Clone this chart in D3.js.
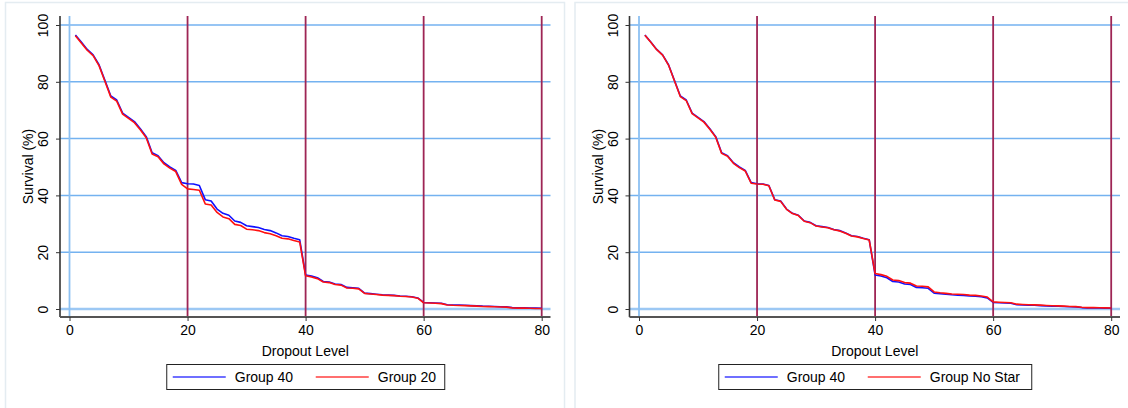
<!DOCTYPE html>
<html>
<head>
<meta charset="utf-8">
<script src="https://cdn.jsdelivr.net/npm/d3@7"></script>
<style>
  html, body { margin: 0; padding: 0; background: #fff; }
  svg { display: block; font-family: "Liberation Sans", Arial, sans-serif; }
</style>
</head>
<body>
<svg id="chart" width="1128" height="408"></svg>
<script>
// Dropout levels (x) and survival percentages for each group
const dropoutLevels = [
  1, 2, 3, 4, 5, 6, 7, 8, 9, 10, 11, 12, 13, 14, 15, 16, 17, 18, 19, 20,
  21, 22, 23, 24, 25, 26, 27, 28, 29, 30, 31, 32, 33, 34, 35, 36, 37, 38, 39, 40,
  41, 42, 43, 44, 45, 46, 47, 48, 49, 50, 51, 52, 53, 54, 55, 56, 57, 58, 59, 60,
  61, 62, 63, 64, 65, 66, 67, 68, 69, 70, 71, 72, 73, 74, 75, 76, 77, 78, 79, 80
];

const group40 = [
  96.5, 94.0, 91.4, 89.5, 86.0, 80.5, 75.0, 73.6, 69.0, 67.5,
  66.0, 63.5, 60.7, 55.0, 54.0, 51.5, 50.0, 48.8, 44.5, 44.1,
  44.0, 43.5, 38.5, 38.0, 35.2, 33.7, 33.0, 31.0, 30.5, 29.3,
  29.0, 28.7, 28.0, 27.6, 26.8, 25.8, 25.5, 24.9, 24.4, 12.0,
  11.6, 11.0, 9.7, 9.5, 8.8, 8.6, 7.6, 7.5, 7.3, 5.6,
  5.4, 5.2, 5.0, 4.9, 4.8, 4.6, 4.5, 4.3, 3.9, 2.3,
  2.2, 2.1, 2.0, 1.5, 1.4, 1.35, 1.3, 1.2, 1.1, 1.0,
  0.95, 0.9, 0.8, 0.75, 0.5, 0.4, 0.4, 0.35, 0.3, 0.25
];

const group20 = [
  96.2, 93.7, 91.1, 89.2, 85.7, 80.2, 74.6, 73.2, 68.6, 67.1,
  65.6, 63.1, 60.3, 54.6, 53.6, 51.1, 49.6, 48.4, 43.9, 42.3,
  42.1, 41.8, 37.0, 36.6, 34.0, 32.4, 31.8, 29.8, 29.4, 28.1,
  27.9, 27.6, 26.9, 26.5, 25.8, 24.9, 24.7, 24.1, 23.6, 11.7,
  11.3, 10.7, 9.5, 9.3, 8.6, 8.4, 7.4, 7.3, 7.1, 5.5,
  5.3, 5.1, 4.9, 4.8, 4.7, 4.5, 4.4, 4.2, 3.8, 2.2,
  2.1, 2.0, 1.9, 1.4, 1.3, 1.25, 1.2, 1.1, 1.0, 0.9,
  0.85, 0.8, 0.7, 0.65, 0.4, 0.3, 0.3, 0.25, 0.2, 0.2
];

const groupNoStar = [
  96.4, 93.9, 91.3, 89.4, 85.9, 80.4, 74.8, 73.4, 68.8, 67.3,
  65.8, 63.3, 60.5, 54.8, 53.8, 51.3, 49.8, 48.6, 44.3, 44.0,
  43.9, 43.4, 38.4, 37.9, 35.1, 33.6, 32.9, 30.9, 30.4, 29.2,
  28.9, 28.6, 27.9, 27.5, 26.7, 25.7, 25.4, 24.8, 24.3, 12.5,
  12.1, 11.5, 10.2, 10.0, 9.3, 9.1, 8.1, 8.0, 7.8, 6.0,
  5.7, 5.5, 5.3, 5.2, 5.1, 4.9, 4.8, 4.6, 4.2, 2.5,
  2.4, 2.3, 2.2, 1.7, 1.6, 1.5, 1.45, 1.35, 1.25, 1.15,
  1.1, 1.0, 0.9, 0.85, 0.6, 0.5, 0.5, 0.45, 0.4, 0.35
];

const xTicks = [0, 20, 40, 60, 80];
const yTicks = [0, 20, 40, 60, 80, 100];
const markerLevels = [20, 40, 60, 80];

const xLabel = "Dropout Level";
const yLabel = "Survival (%)";

const panels = [
  { offset: 0,     series: [{ name: "Group 40", values: group40, color: "#1010ff" },
                              { name: "Group 20", values: group20, color: "#ff1010" }],
    legendWidth: 278 },
  { offset: 569.5, series: [{ name: "Group 40", values: group40, color: "#1010ff" },
                              { name: "Group No Star", values: groupNoStar, color: "#ff1010" }],
    legendWidth: 313 }
];

const svg = d3.select("#chart");

panels.forEach(p => {
  const g = svg.append("g").attr("transform", `translate(${p.offset},0)`);

  // panel frame
  g.append("rect")
    .attr("x", 5.5).attr("y", 2.5)
    .attr("width", 559).attr("height", 420)
    .attr("fill", "#fff")
    .attr("stroke", "#e4ecf1").attr("stroke-width", 1.5);

  const x = d3.scaleLinear().domain([0, 80]).range([69.5, 541.7]);
  const y = d3.scaleLinear().domain([0, 100]).range([309, 25]);

  const plotLeft = 60, plotRight = 550.5, plotTop = 16, plotBottom = 317;

  // horizontal grid
  g.append("g").selectAll("line").data(yTicks).join("line")
    .attr("x1", plotLeft).attr("x2", plotRight)
    .attr("y1", d => y(d)).attr("y2", d => y(d))
    .attr("stroke", d => d === 0 ? "#9cc8f4" : "#74b2f0")
    .attr("stroke-width", d => d === 0 ? 2.5 : 1.5);

  // vertical reference line at zero
  g.append("line")
    .attr("x1", x(0)).attr("x2", x(0))
    .attr("y1", plotTop).attr("y2", plotBottom)
    .attr("stroke", "#8cc0f2").attr("stroke-width", 1.8);

  // marker lines at each 20 dropout levels
  g.append("g").selectAll("line").data(markerLevels).join("line")
    .attr("x1", d => x(d)).attr("x2", d => x(d))
    .attr("y1", plotTop).attr("y2", plotBottom)
    .attr("stroke", "#9e2555").attr("stroke-width", 1.8);

  // survival curves
  const line = d3.line()
    .x((d, i) => x(dropoutLevels[i]))
    .y(d => y(d));

  p.series.forEach(s => {
    g.append("path")
      .datum(s.values)
      .attr("fill", "none")
      .attr("stroke", s.color)
      .attr("stroke-width", 1.6)
      .attr("stroke-linejoin", "round")
      .attr("d", line);
  });

  // y axis
  const yAxis = g.append("g")
    .attr("transform", `translate(${plotLeft},0)`)
    .call(d3.axisLeft(y).tickValues(yTicks).tickSize(4).tickSizeOuter(0));
  yAxis.select(".domain").attr("d", `M0,${plotTop}V${plotBottom}`)
    .attr("stroke", "#333").attr("stroke-width", 1.6);
  yAxis.selectAll(".tick line").attr("stroke", "#333");
  yAxis.selectAll(".tick text")
    .attr("x", null).attr("dy", null)
    .attr("transform", "translate(-12,0) rotate(-90)")
    .attr("text-anchor", "middle")
    .attr("font-size", 14)
    .attr("font-family", "Liberation Sans, Arial, sans-serif")
    .attr("fill", "#000");

  // x axis
  const xAxis = g.append("g")
    .attr("transform", `translate(0,${plotBottom})`)
    .call(d3.axisBottom(x).tickValues(xTicks).tickSize(4).tickSizeOuter(0).tickPadding(4));
  xAxis.select(".domain").attr("d", `M${plotLeft},0H${plotRight}`)
    .attr("stroke", "#555").attr("stroke-width", 2);
  xAxis.selectAll(".tick line").attr("stroke", "#333");
  xAxis.selectAll(".tick text")
    .attr("font-size", 14)
    .attr("font-family", "Liberation Sans, Arial, sans-serif")
    .attr("fill", "#000");

  // axis titles
  g.append("text")
    .attr("x", (plotLeft + plotRight) / 2).attr("y", 356)
    .attr("text-anchor", "middle").attr("font-size", 14)
    .text(xLabel);
  g.append("text")
    .attr("transform", `translate(33,${(plotTop + plotBottom) / 2}) rotate(-90)`)
    .attr("text-anchor", "middle").attr("font-size", 14)
    .text(yLabel);

  // legend
  const lw = p.legendWidth;
  const lx = (plotLeft + plotRight) / 2 - lw / 2 + 0.5;
  const legend = g.append("g").attr("transform", `translate(${lx},364.5)`);
  legend.append("rect")
    .attr("width", lw).attr("height", 25)
    .attr("fill", "#fff").attr("stroke", "#222").attr("stroke-width", 1);
  const itemX = [6, 149];
  p.series.forEach((s, i) => {
    legend.append("line")
      .attr("x1", itemX[i]).attr("x2", itemX[i] + 53)
      .attr("y1", 12.5).attr("y2", 12.5)
      .attr("stroke", s.color).attr("stroke-opacity", 0.8).attr("stroke-width", 1.6);
    legend.append("text")
      .attr("x", itemX[i] + 62).attr("y", 17.5)
      .attr("font-size", 14)
      .text(s.name);
  });
});
</script>
</body>
</html>
